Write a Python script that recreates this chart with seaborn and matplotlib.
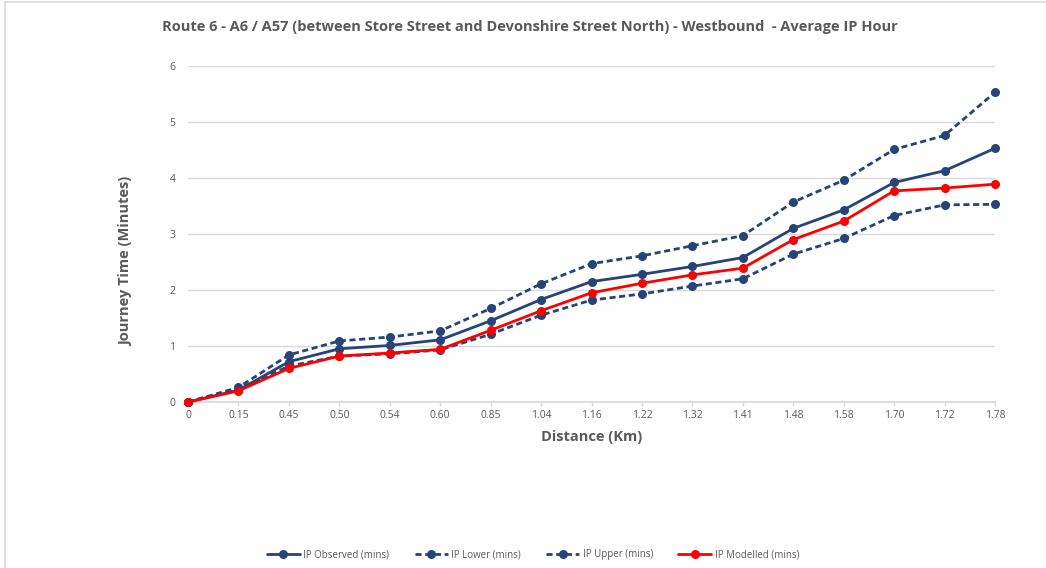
import matplotlib
matplotlib.use("Agg")
import matplotlib.pyplot as plt
import seaborn as sns
import pandas as pd
from matplotlib.patches import Rectangle
from matplotlib.lines import Line2D

distance = ["0", "0.15", "0.45", "0.50", "0.54", "0.60", "0.85", "1.04", "1.16",
            "1.22", "1.32", "1.41", "1.48", "1.58", "1.70", "1.72", "1.78"]
observed = [0, 0.21, 0.72, 0.95, 1.01, 1.11, 1.45, 1.83, 2.15,
            2.28, 2.42, 2.58, 3.10, 3.43, 3.92, 4.13, 4.53]
lower = [0, 0.23, 0.64, 0.82, 0.86, 0.93, 1.21, 1.55, 1.82,
         1.93, 2.07, 2.20, 2.64, 2.92, 3.33, 3.52, 3.53]
upper = [0, 0.26, 0.84, 1.09, 1.16, 1.27, 1.67, 2.11, 2.47,
         2.61, 2.79, 2.97, 3.57, 3.96, 4.51, 4.76, 5.53]
modelled = [0, 0.20, 0.60, 0.82, 0.875, 0.94, 1.28, 1.63, 1.95,
            2.12, 2.27, 2.39, 2.90, 3.23, 3.77, 3.82, 3.89]

series_names = ["IP Observed (mins)", "IP Lower (mins)", "IP Upper (mins)", "IP Modelled (mins)"]
title = "Route 6 - A6 / A57 (between Store Street and Devonshire Street North) - Westbound  - Average IP Hour"

sns.set_theme(style="white")
plt.rcParams['font.family'] = ['Open Sans', 'DejaVu Sans']

NAVY = "#264478"
RED = "#FF0000"
GREY = "#595959"

fig = plt.figure(figsize=(10.46, 5.68), dpi=100)
ax = fig.add_axes([188/1046, 1-402/568, (995-188)/1046, (402-66)/568])

pos = list(range(len(distance)))
df = pd.DataFrame({"pos": pos, "observed": observed, "lower": lower,
                   "upper": upper, "modelled": modelled})

DASH = (0, (2.2, 1.3))
styles = [
    ("observed", NAVY, "-"),
    ("lower", NAVY, DASH),
    ("upper", NAVY, DASH),
    ("modelled", RED, "-"),
]
for col, color, ls in styles:
    sns.lineplot(data=df, x="pos", y=col, ax=ax, color=color, linewidth=2,
                 linestyle=ls, marker="o", markersize=6.5, markeredgewidth=0,
                 zorder=3 if col != "modelled" else 4)

ax.set_xlim(0, len(distance) - 1)
ax.set_ylim(0, 6)
ax.set_xticks(pos)
ax.set_xticklabels(distance)
ax.set_yticks(range(0, 7))
ax.yaxis.grid(True, color="#D9D9D9", linewidth=1)
ax.xaxis.grid(False)
for s in ["top", "right", "left"]:
    ax.spines[s].set_visible(False)
ax.spines["bottom"].set_color("#D9D9D9")
ax.tick_params(axis="x", colors=GREY, labelsize=7.5, length=3, width=1, pad=3,
               color="#D9D9D9", direction="out", bottom=True)
ax.tick_params(axis="y", colors=GREY, labelsize=7.5, length=0, pad=9)
for ln in ax.lines:
    ln.set_clip_on(False)

ax.set_xlabel("Distance (Km)", fontsize=10.5, fontweight="bold", color=GREY, labelpad=6)
ax.set_ylabel("Journey Time (Minutes)", fontsize=10.5, fontweight="bold", color=GREY)
ax.yaxis.set_label_coords((133-188)/807, (402-261)/336)
if ax.get_legend():
    ax.get_legend().remove()

fig.text(530/1046, 1-27/568, title, ha="center", va="center", fontsize=10.5,
         fontweight="bold", color=GREY)

handles = [Line2D([], [], color=c, linestyle=ls, linewidth=2, marker="o", markersize=6.5,
                  markeredgewidth=0) for _, c, ls in styles]
fig.legend(handles, series_names, loc="center", bbox_to_anchor=(533/1046, 1-555/568),
           ncol=4, frameon=False, fontsize=7, labelcolor=GREY, handlelength=3.4,
           columnspacing=2.6, handletextpad=0.35)

fig.patches.append(Rectangle((5/1046, -0.1), 1.2, 1 - 2/568 + 0.1, transform=fig.transFigure,
                             fill=False, edgecolor="#D9D9D9", linewidth=1.2))

fig.savefig("out.png", dpi=100, facecolor="white")
